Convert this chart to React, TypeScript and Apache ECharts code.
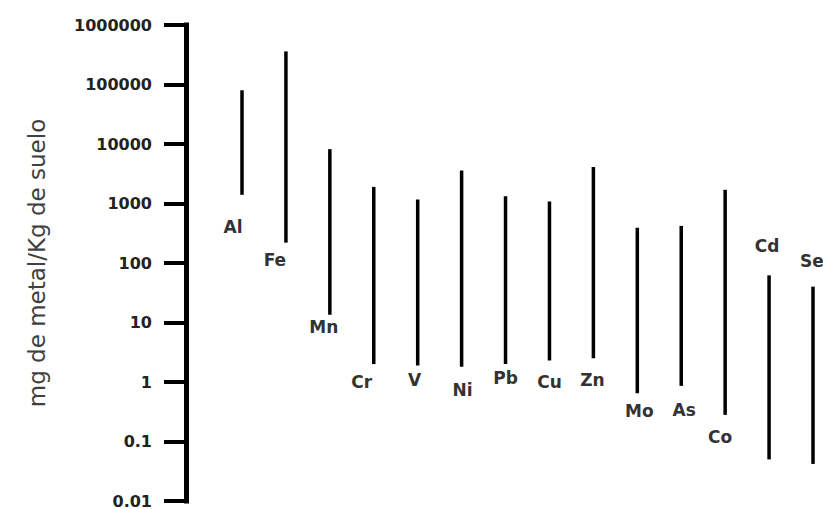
import React, { useEffect, useRef } from "react";
import * as echarts from "echarts";

const categories = ["Al", "Fe", "Mn", "Cr", "V", "Ni", "Pb", "Cu", "Zn", "Mo", "As", "Co", "Cd", "Se"];
const minValues = [1400, 220, 13.5, 2.0, 1.9, 1.8, 2.0, 2.3, 2.5, 0.65, 0.86, 0.28, 0.05, 0.042];
const maxValues = [80000, 360000, 8200, 1900, 1170, 3600, 1330, 1080, 4100, 390, 420, 1700, 62, 40];
const yTickLabels = ["0.01", "0.1", "1", "10", "100", "1000", "10000", "100000", "1000000"];
const yAxisTitle = "mg de metal/Kg de suelo";

// label placement relative to the end of each range line (style only)
const labelPlacement = [
  { at: "min", dx: -9, dy: 32 },
  { at: "min", dx: -11, dy: 17 },
  { at: "min", dx: -6, dy: 12 },
  { at: "min", dx: -12, dy: 18 },
  { at: "min", dx: -3, dy: 15 },
  { at: "min", dx: 1, dy: 23 },
  { at: "min", dx: 0, dy: 14 },
  { at: "min", dx: 0, dy: 22 },
  { at: "min", dx: -1, dy: 22 },
  { at: "min", dx: 2, dy: 18 },
  { at: "min", dx: 3, dy: 24 },
  { at: "min", dx: -5, dy: 22 },
  { at: "max", dx: -2, dy: -29 },
  { at: "max", dx: -1, dy: -26 },
];

export default function App() {
  const ref = useRef<HTMLDivElement>(null);
  useEffect(() => {
    if (!ref.current) return;
    const chart = echarts.init(ref.current, null, { renderer: "svg" });
    const data = categories.map((c, i) => [i, minValues[i], maxValues[i]]);
    chart.setOption({
      animation: false,
      backgroundColor: "#ffffff",
      grid: { left: 242, right: 10, top: 25, bottom: 4, containLabel: false },
      xAxis: {
        type: "category",
        data: categories,
        boundaryGap: false,
        show: false,
      },
      yAxis: {
        type: "log",
        logBase: 10,
        min: 0.01,
        max: 1000000,
        splitNumber: 8,
        position: "left",
        offset: 56,
        name: yAxisTitle,
        nameLocation: "middle",
        nameRotate: 90,
        nameGap: 138,
        nameTextStyle: {
          fontFamily: "DejaVu Sans",
          fontSize: 23,
          color: "#404040",
        },
        axisLine: { show: true, lineStyle: { color: "#000", width: 5, cap: "square" } },
        axisTick: { show: true, length: 22, lineStyle: { color: "#000", width: 4 } },
        minorTick: { show: false },
        splitLine: { show: false },
        axisLabel: {
          margin: 34,
          fontFamily: "DejaVu Sans",
          fontWeight: "bold",
          fontSize: 16,
          color: "#222",
          formatter: (v: number) => yTickLabels[Math.round(Math.log10(v)) + 2] ?? "",
        },
      },
      series: [
        {
          type: "custom",
          coordinateSystem: "cartesian2d",
          encode: { x: 0, y: [1, 2] },
          data,
          renderItem: (params: any, api: any) => {
            const i = api.value(0);
            const lo = api.coord([i, api.value(1)]);
            const hi = api.coord([i, api.value(2)]);
            const p = labelPlacement[params.dataIndex];
            const anchor = p.at === "max" ? hi : lo;
            return {
              type: "group",
              children: [
                {
                  type: "line",
                  shape: { x1: lo[0], y1: lo[1], x2: hi[0], y2: hi[1] },
                  style: { stroke: "#000", lineWidth: 3.5 },
                },
                {
                  type: "text",
                  x: anchor[0] + p.dx,
                  y: anchor[1] + p.dy,
                  style: {
                    text: categories[i],
                    align: "center",
                    verticalAlign: "middle",
                    fontFamily: "DejaVu Sans",
                    fontWeight: "bold",
                    fontSize: 17,
                    fill: "#333",
                  },
                },
              ],
            };
          },
        },
      ],
    });
    return () => chart.dispose();
  }, []);
  return (
    <div
      ref={ref}
      style={{ position: "fixed", left: 0, top: 0, width: 823, height: 509, background: "#fff" }}
    />
  );
}
